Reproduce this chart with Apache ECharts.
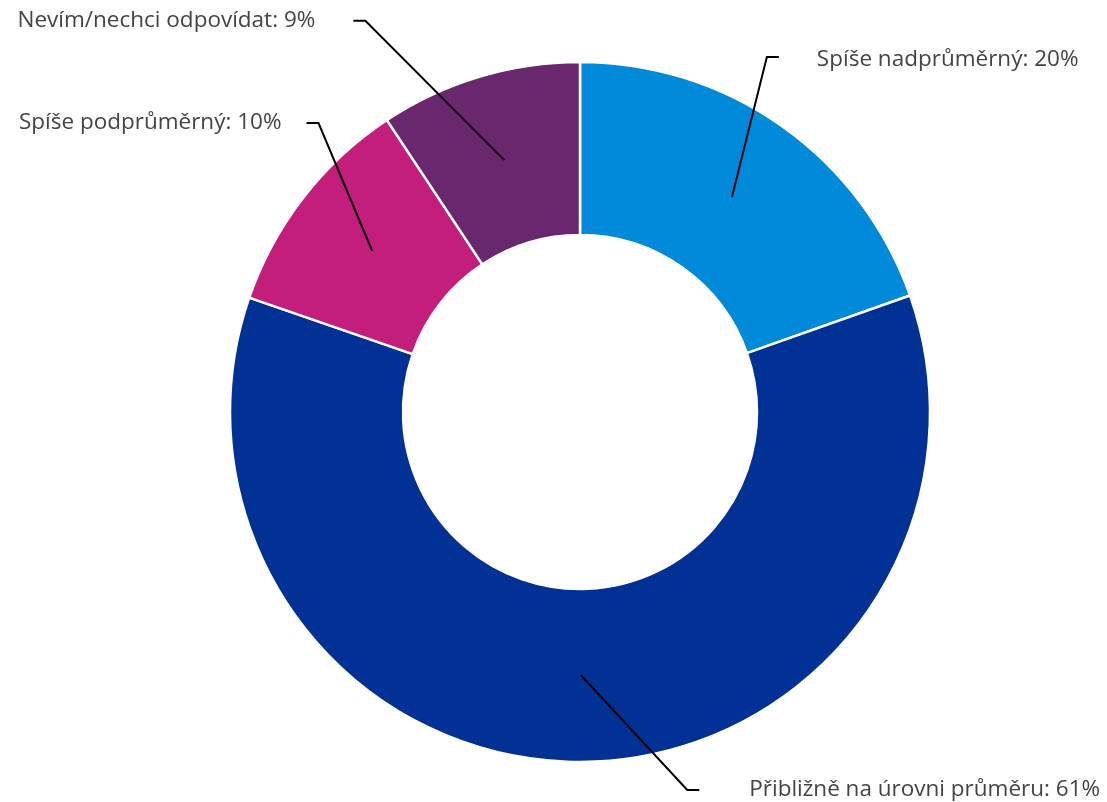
<!DOCTYPE html>
<html><head><meta charset="utf-8">
<script src="https://cdn.jsdelivr.net/npm/echarts@6/dist/echarts.min.js"></script>
<style>html,body{margin:0;padding:0;background:#fff}#c{width:1107px;height:802px}</style>
</head><body><div id="c"></div>
<script>
const categories = ['Spíše nadprůměrný', 'Přibližně na úrovni průměru', 'Spíše podprůměrný', 'Nevím/nechci odpovídat'];
const shares = [19.6, 60.7, 10.4, 9.3];
const colors = ['#018ADA', '#013194', '#C41E7D', '#69276E'];
// label placement nudges (style only): [dx, dy] applied to the elbow and text, plus extra text shift
const labelNudge = [[-43, -30], [106, -20], [53, -45], [-100, -10]];
const textShift = [[0, 2], [12, 0], [13, 0], [0, 0]];

const data = categories.map((name, i) => ({ name, value: shares[i], itemStyle: { color: colors[i] } }));
const chart = echarts.init(document.getElementById('c'), null, { renderer: 'canvas' });
const center = [580, 412];
chart.setOption({
  animation: false,
  series: [
    {
      type: 'pie', center, radius: [177, 350], startAngle: 90, clockwise: true,
      avoidLabelOverlap: false,
      itemStyle: { borderColor: '#fff', borderWidth: 2.5 },
      label: { show: false }, labelLine: { show: false },
      emphasis: { disabled: true }, silent: true,
      data
    },
    {
      type: 'pie', center, radius: [0, 263], startAngle: 90, clockwise: true,
      percentPrecision: 0,
      avoidLabelOverlap: false,
      itemStyle: { color: 'rgba(0,0,0,0)' },
      emphasis: { disabled: true }, silent: true, z: 5,
      label: {
        show: true, position: 'outside', formatter: '{b}: {d}%', overflow: 'none',
        fontFamily: 'Open Sans', fontSize: 22.5, color: '#444', distanceToLabelLine: 38
      },
      labelLine: { show: true, length: 135, length2: 12, lineStyle: { color: '#000', width: 2 } },
      labelLayout(params) {
        const n = labelNudge[params.dataIndex];
        const t = textShift[params.dataIndex];
        const p = params.labelLinePoints;
        const res = { dx: n[0] + t[0], dy: n[1] + t[1] };
        if (p) {
          res.labelLinePoints = [p[0], [p[1][0] + n[0], p[1][1] + n[1]], [p[2][0] + n[0], p[2][1] + n[1]]];
        }
        return res;
      },
      data: categories.map((name, i) => ({ name, value: shares[i] }))
    }
  ]
});
</script></body></html>
